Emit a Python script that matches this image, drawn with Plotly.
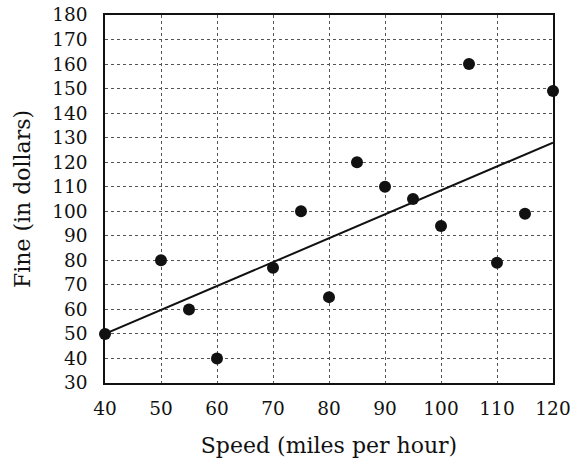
import plotly.graph_objects as go

speed = [40, 50, 55, 60, 70, 75, 80, 85, 90, 95, 100, 105, 110, 115, 120]
fine = [50, 80, 60, 40, 77, 100, 65, 120, 110, 105, 94, 160, 79, 99, 149]
fit_x = [40, 120]
fit_y = [50, 128]
x_ticks = list(range(40, 121, 10))
y_ticks = list(range(30, 181, 10))

tick_font = dict(family="DejaVu Serif", size=18.5, color="#111111")
title_font = dict(family="DejaVu Serif", size=22, color="#111111")

fig = go.Figure()
fig.add_trace(go.Scatter(x=fit_x, y=fit_y, mode="lines",
                         line=dict(color="#111111", width=2), cliponaxis=False,
                         showlegend=False))
fig.add_trace(go.Scatter(x=speed, y=fine, mode="markers",
                         marker=dict(color="#111111", size=12), cliponaxis=False,
                         showlegend=False))

axis_common = dict(showgrid=True, gridcolor="#555555", gridwidth=1, griddash="dot",
                   showline=True, linecolor="#111111", linewidth=1.5, mirror=True,
                   ticks="", zeroline=False, tickfont=tick_font, automargin=False,
                   ticklabeloverflow="allow")

fig.update_xaxes(range=[40, 120], tickvals=x_ticks,
                 title=dict(text="Speed (miles per hour)", font=title_font, standoff=20),
                 ticklabelstandoff=8, **axis_common)
fig.update_yaxes(range=[30, 180], tickvals=y_ticks,
                 title=dict(text="Fine (in dollars)", font=title_font, standoff=16),
                 ticklabelstandoff=12, **axis_common)

fig.update_layout(width=570, height=466, margin=dict(l=105, r=17, t=15, b=83),
                  plot_bgcolor="white", paper_bgcolor="white", font=tick_font)

fig.write_html("out.html", config={"displayModeBar": False},
               post_script="document.body.style.margin='0';document.body.style.overflow='hidden';")
